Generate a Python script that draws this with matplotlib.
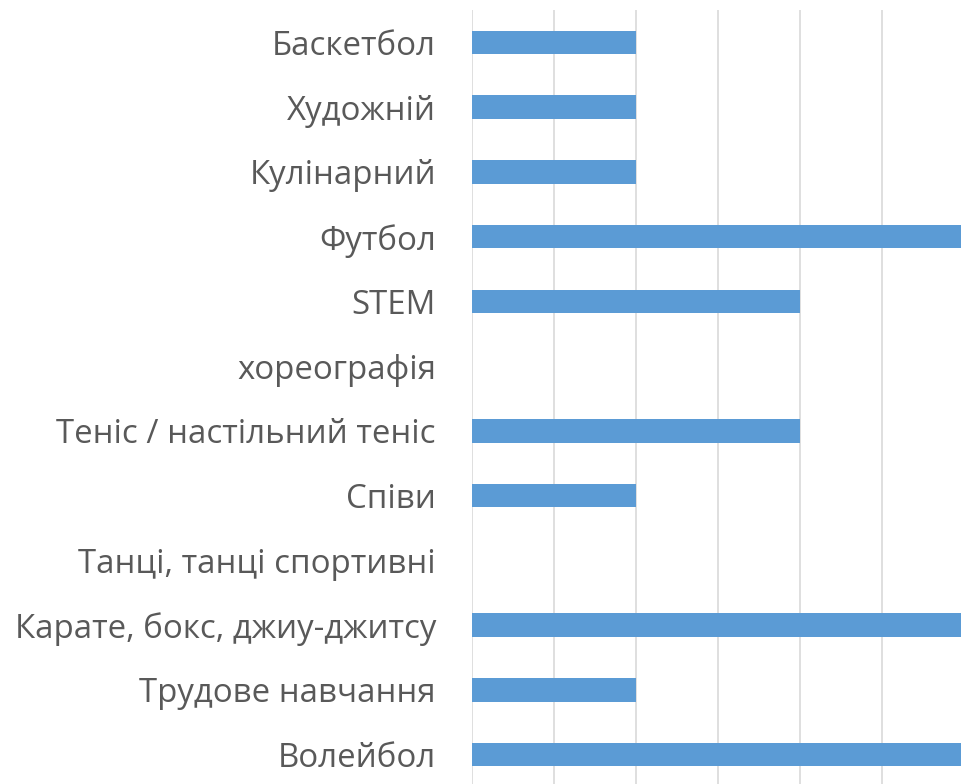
import matplotlib
matplotlib.use('Agg')
import matplotlib.pyplot as plt
import matplotlib.ticker as ticker

categories = ['Баскетбол', 'Художній', 'Кулінарний', 'Футбол', 'STEM', 'хореографія',
              'Теніс / настільний теніс', 'Співи', 'Танці, танці спортивні',
              'Карате, бокс, джиу-джитсу', 'Трудове навчання', 'Волейбол']
values = [1, 1, 1, 3, 2, 0, 2, 1, 0, 3, 1, 3]

plt.rcParams['font.family'] = ['Open Sans', 'DejaVu Sans']

W, H = 962, 784
fig = plt.figure(figsize=(W / 100, H / 100), dpi=100)
# axes run past the right and bottom edges, as in the cropped original
ax = fig.add_axes([472 / W, (H - 787) / H, 574 / W, 777 / H])

ax.barh(range(len(categories)), values, height=0.36, color='#5b9bd5', zorder=3)
ax.set_ylim(len(categories) - 0.5, -0.5)
ax.set_xlim(0, 3.5)
ax.xaxis.set_major_locator(ticker.MultipleLocator(0.5))
ax.grid(axis='x', color='#d9d9d9', linewidth=1.2, zorder=0)
ax.set_yticks(range(len(categories)))
ax.set_yticklabels(categories, fontsize=23.8, color='#595959')
ax.tick_params(axis='y', length=0, pad=26)
ax.tick_params(axis='x', length=0, labelbottom=False)
for s in ax.spines.values():
    s.set_visible(False)

fig.savefig('out.png', dpi=100)
